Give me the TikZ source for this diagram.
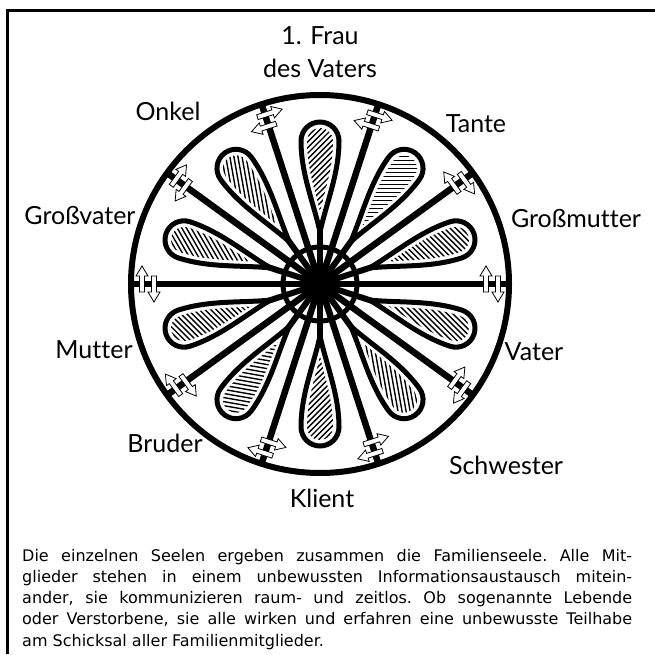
\documentclass[tikz,border=0pt]{standalone}
\usepackage{fontspec}
\setmainfont{DejaVu Sans}
\newfontfamily\labelfont[Ligatures=NoCommon]{Lato}
\begin{document}
\begin{tikzpicture}[x=1pt,y=1pt,
  lab/.style={font=\labelfont\fontsize{25}{33}\selectfont, inner sep=0pt, align=center},
  spoke/.style={line width=6.5pt},
  stem/.style={line width=6pt},
  petalline/.style={line width=5pt, fill=white},
  hatch/.style={line width=1.4pt},
  xarr/.pic={\filldraw[fill=white, draw=black, line width=0.8pt]
     (-2.5,0) -- (-2.5,16) -- (-6,16) -- (0,26) -- (6,16) -- (2.5,16) -- (2.5,0) -- cycle;}
]
\useasboundingbox (0,0) rectangle (655,654);
\fill[white] (0,0) rectangle (655,654);
% frame
\draw[line width=3pt] (7,0) -- (7,643) -- (655,643);

\coordinate (C) at (320,370);

% spokes
\foreach \a in {0,36,...,324}
  \draw[spoke] (C) -- ++(\a:189);

% petals with stems
\foreach \a/\h in {90/45, 126/100, 162/120, 198/135, 234/-10, 270/45, 306/100, 342/135, 18/135, 54/0}{
  \begin{scope}[shift={(C)}, rotate=\a]
    \draw[stem] (0,0) -- (54,0);
    \draw[petalline] (52,0) .. controls (80,6) and (110,19) .. (143,19)
        arc[start angle=90, end angle=-90, radius=19]
        .. controls (110,-19) and (80,-6) .. (52,0) -- cycle;
    \begin{scope}
      \clip (72,0) .. controls (95,5) and (115,13) .. (143,13)
        arc[start angle=90, end angle=-90, radius=13]
        .. controls (115,-13) and (95,-5) .. (72,0) -- cycle;
      \begin{scope}[rotate around={\h-\a:(143,0)}]
        \foreach \k in {-100,-96,...,100}
          \draw[hatch] (43,\k) -- (243,\k);
      \end{scope}
    \end{scope}
  \end{scope}
}

% outer circle
\draw[line width=6pt] (C) circle (189);

% exchange arrows at spoke ends
\foreach \a in {0,36,...,324}{
  \begin{scope}[shift={(C)}, rotate=\a]
    \pic[transform shape, rotate=180] at (178,8) {xarr};
    \pic[transform shape] at (166,-8) {xarr};
  \end{scope}
}

% hub
\draw[line width=5pt] (C) circle (37);
\fill (C) circle (13);

% labels
\node[lab] (frau) at (320,602) {1. Frau\\des Vaters};
\node[lab] (onkel) at (168,543) {Onkel};
\node[lab] (tante) at (476,530) {Tante};
\node[lab] (gv) at (80,438) {Großvater};
\node[lab] (gm) at (576,435) {Großmutter};
\node[lab] (mutter) at (94,304) {Mutter};
\node[lab] (vater) at (534,302) {Vater};
\node[lab] (bruder) at (165,211) {Bruder};
\node[lab] (schw) at (506,189) {Schwester};
\node[lab] (klient) at (322,156) {Klient};

% caption
\node[anchor=base west, inner sep=0pt] (cap) at (22,93) {\parbox[t]{610pt}{\fontsize{16}{21.3}\selectfont\frenchspacing
\makebox[610pt][s]{Die einzelnen Seelen ergeben zusammen die Familienseele. Alle Mit-}\\
\makebox[610pt][s]{glieder stehen in einem unbewussten Informationsaustausch mitein-}\\
\makebox[610pt][s]{ander, sie kommunizieren raum- und zeitlos. Ob sogenannte Lebende}\\
\makebox[610pt][s]{oder Verstorbene, sie alle wirken und erfahren eine unbewusste Teilhabe}\\
am Schicksal aller Familienmitglieder.}};
\end{tikzpicture}
\end{document}
